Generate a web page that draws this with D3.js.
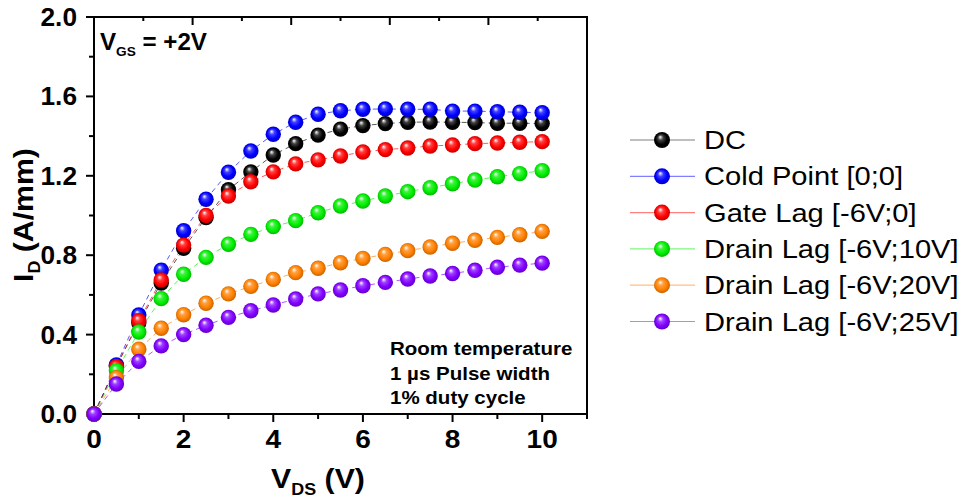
<!DOCTYPE html>
<html><head><meta charset="utf-8">
<script src="https://cdn.jsdelivr.net/npm/d3@7"></script>
<style>body{margin:0;background:#fff}svg{display:block}text{font-family:"Liberation Sans",Arial,sans-serif}</style>
</head><body><svg id="c" width="961" height="500"></svg>
<script>
const vds = [0,0.5,1,1.5,2,2.5,3,3.5,4,4.5,5,5.5,6,6.5,7,7.5,8,8.5,9,9.5,10];
const seriesNames = ["DC","Cold Point [0;0]","Gate Lag [-6V;0]","Drain Lag [-6V;10V]","Drain Lag [-6V;20V]","Drain Lag [-6V;25V]"];
const dc      = [0,0.243,0.46,0.66,0.835,0.99,1.13,1.22,1.305,1.362,1.405,1.435,1.453,1.463,1.47,1.471,1.47,1.468,1.465,1.465,1.463];
const cold    = [0,0.247,0.499,0.725,0.923,1.082,1.218,1.325,1.409,1.47,1.51,1.528,1.535,1.537,1.535,1.535,1.526,1.526,1.523,1.52,1.518];
const gateLag = [0,0.238,0.47,0.675,0.851,1.0,1.098,1.17,1.22,1.26,1.28,1.30,1.32,1.332,1.34,1.35,1.355,1.362,1.365,1.369,1.372];
const drain10 = [0,0.218,0.413,0.581,0.704,0.789,0.855,0.905,0.944,0.974,1.014,1.048,1.073,1.098,1.12,1.14,1.16,1.179,1.195,1.211,1.226];
const drain20 = [0,0.183,0.326,0.432,0.50,0.558,0.605,0.643,0.678,0.712,0.734,0.762,0.784,0.804,0.823,0.841,0.86,0.875,0.89,0.903,0.92];
const drain25 = [0,0.151,0.265,0.343,0.40,0.447,0.487,0.52,0.549,0.579,0.605,0.625,0.646,0.663,0.68,0.695,0.708,0.724,0.739,0.75,0.76];
const colors = ["#000000","#0000ff","#ff0000","#00ee00","#ff8000","#8000ff"];
const xTickLabels = [0,2,4,6,8,10];
const yTickLabels = [0,0.4,0.8,1.2,1.6,2.0];
const notes = ["Room temperature","1 µs Pulse width","1% duty cycle"];
const allSeries = [dc,cold,gateLag,drain10,drain20,drain25];

const svg = d3.select("#c");
const L=94, R=587, T=17, B=414;
const x = d3.scaleLinear().domain([0,11]).range([L,R]);
const xTop = d3.scaleLinear().domain([0,10]).range([L,R]);
const y = d3.scaleLinear().domain([0,2]).range([B,T]);

function txt(parent, px, py, sx, rot){
  return parent.append("text").attr("transform",`translate(${px},${py})${rot?` rotate(${rot})`:""} scale(${sx},1)`);
}

const defs = svg.append("defs");
colors.forEach((c,i)=>{
  const g = defs.append("radialGradient").attr("id","g"+i).attr("cx","50%").attr("cy","50%").attr("r","55%").attr("fx","38%").attr("fy","30%");
  g.append("stop").attr("offset","0%").attr("stop-color","#ffffff");
  g.append("stop").attr("offset","30%").attr("stop-color",d3.interpolateRgb("#fff",c)(0.75));
  g.append("stop").attr("offset","65%").attr("stop-color",c);
  g.append("stop").attr("offset","100%").attr("stop-color",d3.color(c).darker(0.9));
});

const ax = svg.append("g").attr("stroke","#000").attr("stroke-width",2);
ax.append("rect").attr("x",L).attr("y",T).attr("width",R-L).attr("height",B-T).attr("fill","none");
d3.range(0,12).forEach(v=>{
  const maj = v%2===0;
  ax.append("line").attr("x1",x(v)).attr("x2",x(v)).attr("y1",B).attr("y2",B+(maj?8:5));
});
d3.range(0,11).forEach(v=>{
  const maj = v%2===0;
  ax.append("line").attr("x1",xTop(v)).attr("x2",xTop(v)).attr("y1",T).attr("y2",T+(maj?8:4));
});
d3.range(0,11).forEach(k=>{
  const v=k*0.2, maj=k%2===0;
  ax.append("line").attr("x1",L).attr("x2",L-(maj?8:5)).attr("y1",y(v)).attr("y2",y(v));
});
const lab = svg.append("g").attr("font-weight","bold").attr("font-size",25).attr("fill","#000");
xTickLabels.forEach(v=>txt(lab,x(v),B+34,1.12).attr("text-anchor","middle").text(v));
yTickLabels.forEach(v=>txt(lab,L-17,y(v)+9,1.05).attr("text-anchor","end").text(v.toFixed(1)));

const xt = txt(svg,318,488,1.12).attr("text-anchor","middle").attr("font-weight","bold").attr("font-size",27);
xt.append("tspan").text("V");
xt.append("tspan").attr("font-size",16).attr("dy",7).text("DS");
xt.append("tspan").attr("dy",-7).text(" (V)");
const yt = txt(svg,33,215,1.12,-90).attr("text-anchor","middle").attr("font-weight","bold").attr("font-size",27);
yt.append("tspan").text("I");
yt.append("tspan").attr("font-size",16).attr("dy",7).text("D");
yt.append("tspan").attr("dy",-7).text(" (A/mm)");

const line = d3.line().x((d,i)=>x(vds[i])).y(d=>y(d));
allSeries.forEach((s,i)=>{
  svg.append("path").datum(s).attr("d",line).attr("fill","none").attr("stroke",colors[i]).attr("stroke-opacity",0.65).attr("stroke-width",1).attr("stroke-dasharray","5,4");
});
allSeries.forEach((s,i)=>{
  svg.append("g").selectAll("circle").data(s).join("circle").attr("cx",(d,j)=>x(vds[j])).attr("cy",d=>y(d)).attr("r",7.7).attr("fill","url(#g"+i+")");
});

const vg = txt(svg,100,50,1.05).attr("font-weight","bold").attr("font-size",23);
vg.append("tspan").text("V");
vg.append("tspan").attr("font-size",13).attr("dy",6).text("GS");
vg.append("tspan").attr("dy",-6).text(" = +2V");
notes.forEach((t,i)=>txt(svg,390,355+i*24.5,1.08).attr("font-weight","bold").attr("font-size",19).text(t));

const lg = svg.append("g");
seriesNames.forEach((n,i)=>{
  const cy = 140+i*36.3;
  lg.append("line").attr("x1",630).attr("x2",695).attr("y1",cy).attr("y2",cy).attr("stroke",colors[i]).attr("stroke-opacity",0.5).attr("stroke-width",1.2);
  lg.append("circle").attr("cx",662).attr("cy",cy).attr("r",8).attr("fill","url(#g"+i+")");
  txt(lg,704,cy+9,1.12).attr("font-size",26).text(n);
});
</script></body></html>
